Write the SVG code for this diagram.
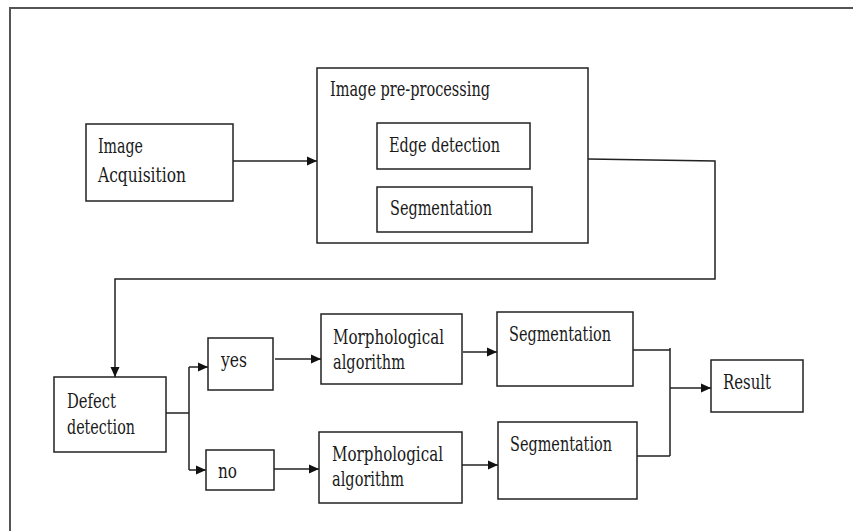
<svg xmlns="http://www.w3.org/2000/svg" width="853" height="531" viewBox="0 0 853 531">
<style>
.box{fill:#fff;stroke:#222;stroke-width:1.5}
.t{font-family:"DejaVu Serif","Liberation Serif",serif;font-size:21px;fill:#1a1a1a}
.c{fill:none;stroke:#222;stroke-width:1.5}
</style>
<defs>
<marker id="ah" markerUnits="userSpaceOnUse" markerWidth="10" markerHeight="10" viewBox="0 0 10 10" refX="10" refY="5" orient="auto">
<path d="M0,0.5 L10,5 L0,9.5 Z" fill="#111"/>
</marker>
</defs>
<rect width="853" height="531" fill="#fff"/>
<path d="M10,531 L10,8 L853,8" fill="none" stroke="#555" stroke-width="2"/>
<g id="connectors">
<path class="c" d="M233,161 L317,161" marker-end="url(#ah)"/>
<path class="c" d="M588,159 L715,161 L715,279 L115,279 L115,377" marker-end="url(#ah)"/>
<path class="c" d="M166,413 L189,413 M189,367 L189,470"/>
<path class="c" d="M189,367 L208,367" marker-end="url(#ah)"/>
<path class="c" d="M189,470 L206,470" marker-end="url(#ah)"/>
<path class="c" d="M275,359 L321,359" marker-end="url(#ah)"/>
<path class="c" d="M274,469 L319,469" marker-end="url(#ah)"/>
<path class="c" d="M463,352 L497,352" marker-end="url(#ah)"/>
<path class="c" d="M462,465 L498,465" marker-end="url(#ah)"/>
<path class="c" d="M633,350 L670,350 M637,456 L670,456 M670,348 L670,456"/>
<path class="c" d="M670,388 L711,388" marker-end="url(#ah)"/>
</g>
<g id="acq">
<rect class="box" x="86" y="124" width="147" height="77"/>
<text class="t" x="98" y="153" textLength="45" lengthAdjust="spacingAndGlyphs">Image</text>
<text class="t" x="98" y="182" textLength="88" lengthAdjust="spacingAndGlyphs">Acquisition</text>
</g>
<g id="preproc">
<rect class="box" x="317" y="68" width="271" height="175"/>
<text class="t" x="330" y="96" textLength="160" lengthAdjust="spacingAndGlyphs">Image pre-processing</text>
</g>
<g id="edge">
<rect class="box" x="377" y="123" width="153" height="46"/>
<text class="t" x="389" y="152" textLength="111" lengthAdjust="spacingAndGlyphs">Edge detection</text>
</g>
<g id="seg0">
<rect class="box" x="377" y="187" width="155" height="45"/>
<text class="t" x="390" y="215" textLength="102" lengthAdjust="spacingAndGlyphs">Segmentation</text>
</g>
<g id="defect">
<rect class="box" x="54" y="377" width="112" height="75"/>
<text class="t" x="67" y="408" textLength="49" lengthAdjust="spacingAndGlyphs">Defect</text>
<text class="t" x="67" y="434" textLength="68" lengthAdjust="spacingAndGlyphs">detection</text>
</g>
<g id="yes">
<rect class="box" x="208" y="338" width="65" height="52"/>
<text class="t" x="221" y="367" textLength="26" lengthAdjust="spacingAndGlyphs">yes</text>
</g>
<g id="no">
<rect class="box" x="206" y="450" width="68" height="40"/>
<text class="t" x="218" y="478" textLength="19" lengthAdjust="spacingAndGlyphs">no</text>
</g>
<g id="morph1">
<rect class="box" x="321" y="314" width="141" height="70"/>
<text class="t" x="333" y="344" textLength="111" lengthAdjust="spacingAndGlyphs">Morphological</text>
<text class="t" x="333" y="369" textLength="72" lengthAdjust="spacingAndGlyphs">algorithm</text>
</g>
<g id="morph2">
<rect class="box" x="319" y="432" width="143" height="71"/>
<text class="t" x="332" y="461" textLength="111" lengthAdjust="spacingAndGlyphs">Morphological</text>
<text class="t" x="332" y="486" textLength="72" lengthAdjust="spacingAndGlyphs">algorithm</text>
</g>
<g id="seg1">
<rect class="box" x="497" y="312" width="136" height="74"/>
<text class="t" x="509" y="341" textLength="102" lengthAdjust="spacingAndGlyphs">Segmentation</text>
</g>
<g id="seg2">
<rect class="box" x="498" y="422" width="139" height="77"/>
<text class="t" x="510" y="451" textLength="102" lengthAdjust="spacingAndGlyphs">Segmentation</text>
</g>
<g id="result">
<rect class="box" x="711" y="360" width="92" height="52"/>
<text class="t" x="723" y="389" textLength="48" lengthAdjust="spacingAndGlyphs">Result</text>
</g>
</svg>
